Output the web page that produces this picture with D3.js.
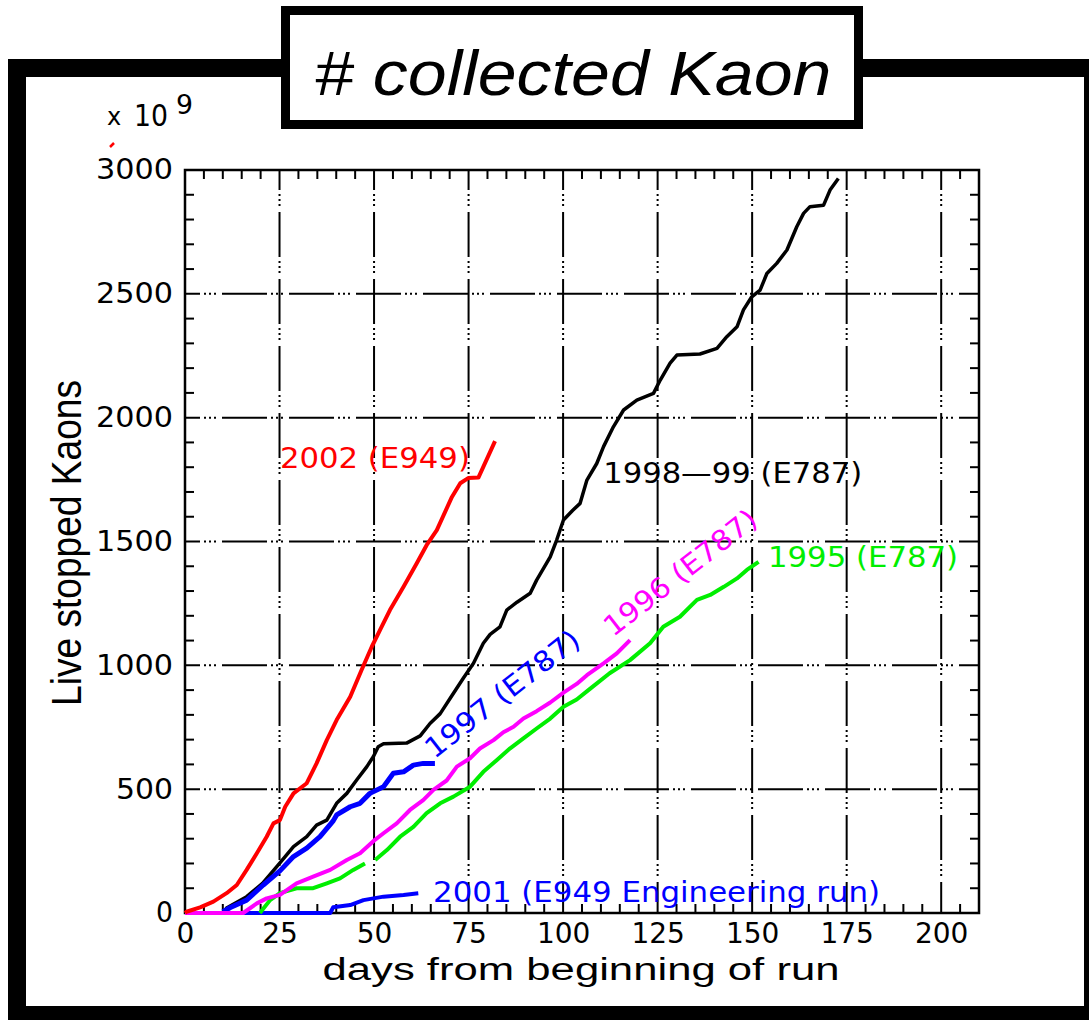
<!DOCTYPE html>
<html><head><meta charset="utf-8">
<script src="https://cdn.jsdelivr.net/npm/d3@7"></script>
<style>body{margin:0;background:#fff;} svg{display:block;}</style>
</head><body>
<script>
// ---- data ----
const xTicks = [0, 25, 50, 75, 100, 125, 150, 175, 200];
const yTicks = [0, 500, 1000, 1500, 2000, 2500, 3000];
const xTitle = "days from beginning of run";
const yTitle = "Live stopped Kaons";
const chartTitle = "# collected Kaon";

// [day, live stopped kaons (x10^9)]
const run2001 = [[0,0],[38.4,0],[39.2,23],[43.7,32],[47.2,52],[52.5,66],[57.8,73],[61.7,80]];
const run1998 = [[10.5,5],[11,20],[16.3,66],[20.5,120],[25,200],[28.7,268],[32.2,308],[34.8,355],[37.5,375],[40.1,443],[42.8,483],[45.4,537],[48.1,591],[49.8,631],[51.1,671],[52.5,683],[58.6,686],[62.2,715],[64.8,765],[67.5,805],[70.1,866],[73.6,948],[76.3,1008],[78.9,1089],[80.7,1125],[83.3,1155],[85.1,1223],[87.8,1255],[91.3,1291],[93,1344],[96.6,1438],[98.3,1506],[100.1,1587],[102.5,1625],[104.5,1654],[106.3,1748],[108.9,1815],[110.7,1883],[113.3,1963],[116,2031],[119.5,2071],[123.9,2098],[125.7,2152],[128.3,2220],[130.1,2253],[136.2,2257],[140.7,2280],[143.3,2327],[146,2367],[147.7,2435],[149.9,2488],[152.1,2515],[153.9,2582],[156.5,2623],[159.2,2677],[161.8,2771],[163.6,2825],[165.3,2852],[168.9,2858],[170.6,2919],[172.8,2966]];
const run1997 = [[10,5],[12,22],[16.3,52],[20.7,113],[25.1,170],[28.7,228],[32.2,262],[35.7,308],[39.2,372],[40.1,396],[43.7,429],[46.3,443],[48.9,483],[52.5,510],[55.1,564],[57.8,570],[60.4,597],[63,604],[66.1,604]];
const run1996 = [[0,0],[15.4,0],[19,39],[21.6,59],[25.1,73],[29.5,120],[33.9,147],[38.4,174],[42.8,214],[46.3,241],[49.8,290],[52.5,322],[56,362],[59.5,416],[63,456],[65.7,497],[69.2,535],[71.9,591],[75.4,625],[78,664],[81.6,698],[84.2,730],[86.9,752],[89.5,785],[93,815],[96.6,850],[100.1,890],[103.6,925],[106.3,960],[110.7,1008],[114.2,1048],[117.7,1102]];
const run1995 = [[19.8,0],[22.5,52],[25.1,80],[29.5,100],[33.9,100],[37.5,120],[41,140],[44.5,174],[47.6,200],null,[50.3,214],[53.4,254],[56.9,308],[60.4,348],[63.9,403],[67.5,443],[71,470],[75.4,510],[78.9,570],[82.5,618],[86,665],[89.5,705],[93,745],[96.6,785],[100.1,833],[103.6,862],[107.1,905],[112.3,968],[117.7,1021],[123,1089],[126.5,1156],[130.9,1196],[135.4,1264],[138.9,1284],[142.5,1317],[146,1351],[148.6,1385],[151.7,1418]];
const run2002 = [[0,0],[0.4,5],[4,23],[7.5,46],[11,80],[13.7,113],[16.3,174],[19,241],[21.6,308],[23.4,362],[25.1,375],[26.5,429],[28.7,483],[32.2,524],[34.8,604],[37.5,698],[40.1,779],[43.7,873],[46.7,981],[49.4,1075],[51.6,1143],[54.2,1223],[57.8,1317],[61.3,1412],[63.9,1485],[66.6,1546],[70.6,1680],[72.8,1735],[74.9,1756],[77.6,1758],[82,1905]];

const seriesNames = ["2001 (E949 Engineering run)", "1998\u201499 (E787)", "1997 (E787)", "1995 (E787)", "1996 (E787)", "2002 (E949)"];
const seriesColors = ["#0000ff", "#000000", "#0000ff", "#00ee00", "#ff00ff", "#ff0000"];
const seriesData = [run2001, run1998, run1997, run1995, run1996, run2002];

// ---- drawing ----
const W = 1089, H = 1020;
const svg = d3.select("body").append("svg").attr("width", W).attr("height", H);

// outer frame
svg.append("rect").attr("x", 8).attr("y", 59).attr("width", W - 8).attr("height", H - 59).attr("fill", "#000");
svg.append("rect").attr("x", 26).attr("y", 77).attr("width", 1058).attr("height", 929).attr("fill", "#fff");

// title box
svg.append("rect").attr("x", 281).attr("y", 6).attr("width", 582).attr("height", 123).attr("fill", "#000");
svg.append("rect").attr("x", 290).attr("y", 15).attr("width", 564).attr("height", 105).attr("fill", "#fff");
svg.append("text").attr("x", 573).attr("y", 95).attr("text-anchor", "middle")
  .attr("font-family", "Liberation Sans, Arial, sans-serif").attr("font-style", "italic")
  .attr("font-size", 63).attr("textLength", 517).attr("lengthAdjust", "spacingAndGlyphs")
  .text(chartTitle);

const L = 185, R = 979, T = 170, B = 913;
const x = d3.scaleLinear().domain([0, 210]).range([L, R]);
const y = d3.scaleLinear().domain([0, 3000]).range([B, T]);

const plotFont = "DejaVu Sans, Verdana, sans-serif";
const dash = "45,4,2,3,2,3,2,6";

// gridlines
const grid = svg.append("g").attr("stroke", "#000").attr("stroke-width", 2).attr("stroke-dasharray", dash);
grid.selectAll("line.v").data(xTicks.filter(d => d > 0)).join("line")
  .attr("x1", d => x(d)).attr("x2", d => x(d)).attr("y1", T).attr("y2", B).attr("stroke-dashoffset", 25);
grid.selectAll("line.h").data(yTicks.filter(d => d > 0 && d < 3000)).join("line")
  .attr("y1", d => y(d)).attr("y2", d => y(d)).attr("x1", L).attr("x2", R).attr("stroke-dashoffset", 30);

// minor ticks
const minorX = d3.range(5, 211, 5).filter(d => d % 25 !== 0);
const minorY = d3.range(100, 3000, 100).filter(d => d % 500 !== 0);
const mt = svg.append("g").attr("stroke", "#000").attr("stroke-width", 2);
minorX.forEach(d => {
  mt.append("line").attr("x1", x(d)).attr("x2", x(d)).attr("y1", T).attr("y2", T + 9);
  mt.append("line").attr("x1", x(d)).attr("x2", x(d)).attr("y1", B).attr("y2", B - 9);
});
minorY.forEach(d => {
  mt.append("line").attr("y1", y(d)).attr("y2", y(d)).attr("x1", L).attr("x2", L + 9);
  mt.append("line").attr("y1", y(d)).attr("y2", y(d)).attr("x1", R).attr("x2", R - 9);
});

// axes labels via d3 axes
const xAxis = svg.append("g").attr("transform", `translate(0,${B})`)
  .call(d3.axisBottom(x).tickValues(xTicks).tickSize(0).tickPadding(10).tickFormat(d3.format("d")));
xAxis.select(".domain").remove();
xAxis.selectAll("text").attr("font-family", plotFont).attr("font-size", 28).attr("fill", "#000");

const yAxis = svg.append("g").attr("transform", `translate(${L},0)`)
  .call(d3.axisLeft(y).tickValues(yTicks).tickSize(0).tickPadding(12).tickFormat(d3.format("d")));
yAxis.select(".domain").remove();
yAxis.selectAll("text").attr("font-family", plotFont).attr("font-size", 28).attr("fill", "#000")
  .attr("textLength", d => String(d).length * 20 - 3).attr("lengthAdjust", "spacingAndGlyphs");

// plot frame
svg.append("rect").attr("x", L).attr("y", T).attr("width", R - L).attr("height", B - T)
  .attr("fill", "none").attr("stroke", "#000").attr("stroke-width", 2.5);

// series lines
const line = d3.line().defined(d => d !== null).x(d => x(d[0])).y(d => y(d[1]));
const widths = [4, 3.5, 5, 4, 4, 4];
seriesData.forEach((data, i) => {
  svg.append("path").datum(data).attr("d", line).attr("fill", "none")
    .attr("stroke", seriesColors[i]).attr("stroke-width", widths[i]).attr("stroke-linejoin", "round");
});

// series labels
const labelPlacement = [
  {day: 65.6, val: 44, rot: 0, len: 447},
  {day: 110.6, val: 1736, rot: 0, len: 259},
  {day: 65.9, val: 620, rot: -38, len: 188},
  {day: 154.2, val: 1397, rot: 0, len: 190},
  {day: 113.2, val: 1112, rot: -38, len: 186},
  {day: 25.1, val: 1797, rot: 0, len: 190}
];
seriesNames.forEach((name, i) => {
  const p = labelPlacement[i];
  const px = x(p.day), py = y(p.val);
  svg.append("text").attr("transform", `translate(${px},${py}) rotate(${p.rot})`)
    .attr("font-family", plotFont).attr("font-size", 28).attr("fill", seriesColors[i])
    .attr("textLength", p.len).attr("lengthAdjust", "spacingAndGlyphs").text(name);
});

// axis titles
svg.append("text").attr("x", 581).attr("y", 980).attr("text-anchor", "middle")
  .attr("font-family", "Liberation Sans, Arial, sans-serif").attr("font-size", 31)
  .attr("textLength", 517).attr("lengthAdjust", "spacingAndGlyphs").text(xTitle);
svg.append("text").attr("transform", "translate(81,543) rotate(-90)").attr("text-anchor", "middle")
  .attr("font-family", "Liberation Sans, Arial, sans-serif").attr("font-size", 42)
  .attr("textLength", 326).attr("lengthAdjust", "spacingAndGlyphs").text(yTitle);

// exponent label
const ex = svg.append("g").attr("font-family", plotFont).attr("fill", "#000");
ex.append("text").attr("x", 107).attr("y", 125).attr("font-size", 24).text("x");
ex.append("text").attr("x", 134).attr("y", 126).attr("font-size", 31).attr("textLength", 34).attr("lengthAdjust", "spacingAndGlyphs").text("10");
ex.append("text").attr("x", 176).attr("y", 114).attr("font-size", 26).attr("textLength", 17).attr("lengthAdjust", "spacingAndGlyphs").text("9");
svg.append("path").attr("d", "M110,147 L114,143").attr("stroke", "#ff0000").attr("stroke-width", 2.5);
</script>
</body></html>
